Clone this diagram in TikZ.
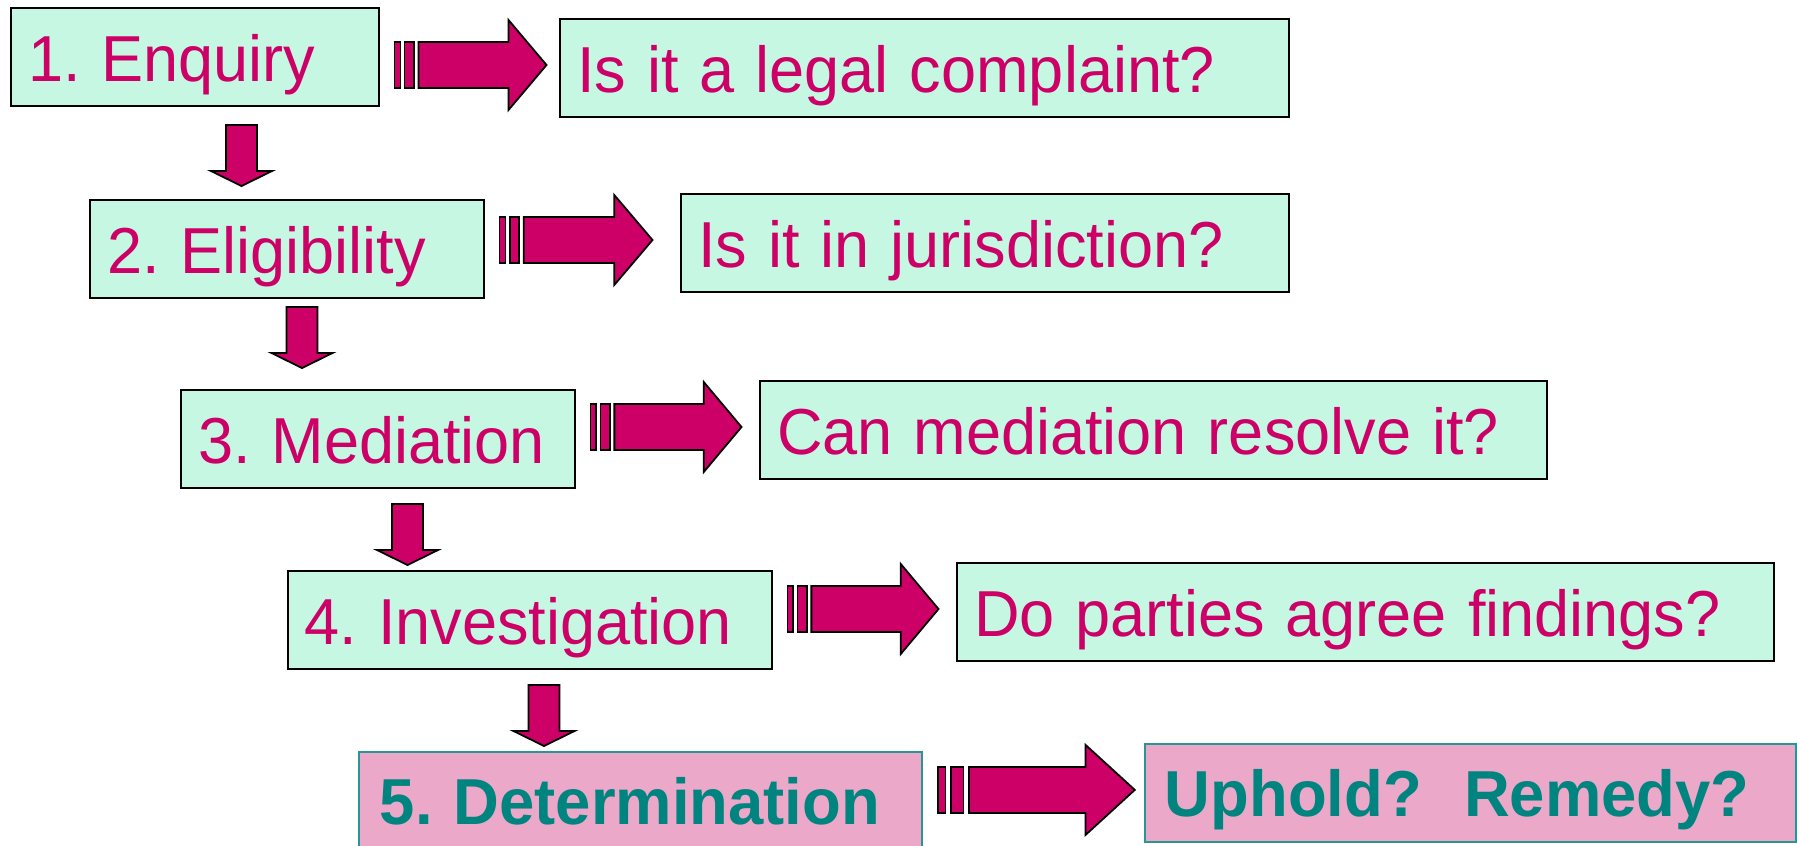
\documentclass[tikz,border=0pt]{standalone}
\usepackage{fontspec}
\setmainfont{Liberation Sans}
\usetikzlibrary{calc}
\definecolor{mint}{RGB}{197,247,226}
\definecolor{magentatext}{RGB}{204,0,102}
\definecolor{pinkfill}{RGB}{236,168,200}
\definecolor{tealtext}{RGB}{0,132,128}
\definecolor{tealline}{RGB}{40,150,148}
\newcommand{\lbl}[1]{\scalebox{0.97}[1]{#1}}
\newcommand{\blbl}[1]{\scalebox{0.975}[1]{#1}}
\tikzset{
  stage/.style={draw=black, line width=2pt, fill=mint, text=magentatext,
    font=\frenchspacing\fontsize{65}{70}\selectfont, anchor=north west,
    inner xsep=17pt, inner ysep=0pt, text height=73pt, text depth=25pt, align=left},
  final/.style={stage, draw=tealline, line width=1.8pt, fill=pinkfill, text=tealtext,
    font=\frenchspacing\bfseries\fontsize{65}{70}\selectfont},
  fat/.style={draw=black, line width=1.8pt, fill=magentatext, line join=miter},
}
\newcommand{\hfat}[2]{%
  \begin{scope}[shift={(#1)}]
    \draw[fat] (0,-23) rectangle ({0.039*#2},23);
    \draw[fat] ({0.066*#2},-23) rectangle ({0.13*#2},23);
    \draw[fat] ({0.158*#2},-23) -- ({0.75*#2},-23) -- ({0.75*#2},-45) -- (#2,0)
      -- ({0.75*#2},45) -- ({0.75*#2},23) -- ({0.158*#2},23) -- cycle;
  \end{scope}}
\newcommand{\vfat}[1]{%
  \begin{scope}[shift={(#1)}]
    \draw[fat] (-15.5,0) -- (15.5,0) -- (15.5,46) -- (30.5,46) -- (0,61)
      -- (-30.5,46) -- (-15.5,46) -- cycle;
  \end{scope}}
\begin{document}
\begin{tikzpicture}[x=1pt,y=-1pt]
\useasboundingbox (0,0) rectangle (1797,846);
\fill[white] (0,0) rectangle (1797,846);
% stage boxes
\node[stage, text width=334pt] (b1) at (10,7) {\lbl{1. Enquiry}};
\node[stage, text width=695pt] (q1) at (559,18) {\lbl{Is it a legal complaint?}};
\node[stage, text width=360pt] (b2) at (89,199) {\lbl{2. Eligibility}};
\node[stage, text width=574pt] (q2) at (680,193) {\lbl{Is it in jurisdiction?}};
\node[stage, text width=360pt] (b3) at (180,389) {\lbl{3. Mediation}};
\node[stage, text width=753pt] (q3) at (759,380) {\lbl{Can mediation resolve it?}};
\node[stage, text width=450.5pt] (b4) at (286.5,570) {\lbl{4. Investigation}};
\node[stage, text width=783pt] (q4) at (956,562) {\lbl{Do parties agree findings?}};
\node[final, text width=529pt, text depth=30pt] (b5) at (358,751) {\hspace*{4pt}\blbl{5. Determination}};
\node[final, text width=617pt] (q5) at (1144,743) {\hspace*{3pt}\blbl{Uphold?\ \ Remedy?}};
% horizontal arrows
\coordinate (h1) at ($(b1.east |- q1.west)+(14.5,-3)$);
\coordinate (h2) at ($(b2.east |- q2.west)+(14.5,-3)$);
\coordinate (h3) at ($(b3.east |- q3.west)+(14.5,-3)$);
\coordinate (h4) at ($(b4.east |- q4.west)+(14.5,-3)$);
\coordinate (h5) at ($(b5.east |- q5.west)+(15,-3)$);
\hfat{h1}{152}
\hfat{h2}{153}
\hfat{h3}{151}
\hfat{h4}{151}
\hfat{h5}{197}
% down arrows
\coordinate (d1) at ($(b1.south west)+(231.5,18)$);
\coordinate (d2) at ($(b2.south west)+(213,8)$);
\coordinate (d3) at ($(b3.south west)+(227.5,15)$);
\coordinate (d4) at ($(b4.south west)+(257.5,15)$);
\vfat{d1}
\vfat{d2}
\vfat{d3}
\vfat{d4}
\end{tikzpicture}
\end{document}
